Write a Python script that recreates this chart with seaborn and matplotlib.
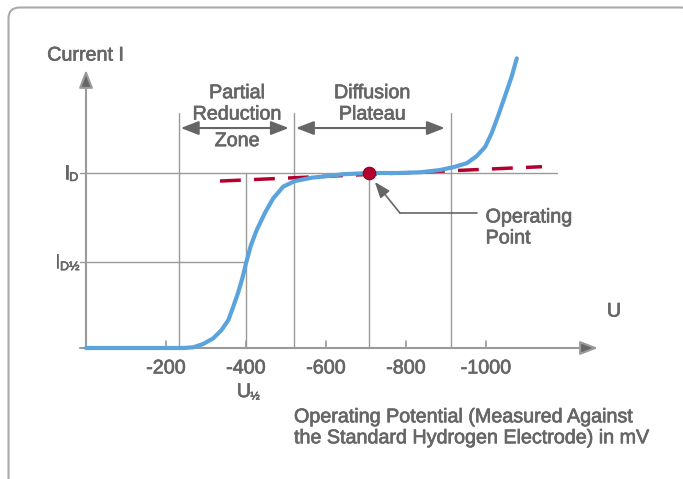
import numpy as np
import matplotlib
matplotlib.use("Agg")
import matplotlib.pyplot as plt
import matplotlib.patheffects as pe
from matplotlib.patches import FancyBboxPatch
import seaborn as sns

sns.set_theme(style="white")
plt.rcParams['font.family'] = ['Liberation Sans', 'DejaVu Sans']

# polarogram (potential as positive mV, drawn as negative labels)
potential_mv = [0, 150, 243, 268, 293, 318, 339, 356, 368, 381, 391, 400, 412, 427, 448,
                468, 493, 522, 564, 606, 643, 708, 780, 835, 885, 918, 952, 977, 998,
                1014, 1031, 1047, 1064, 1077]
current = [0, 0, 0, 0.004, 0.023, 0.055, 0.103, 0.16, 0.235, 0.321, 0.40, 0.484, 0.585,
           0.675, 0.775, 0.855, 0.922, 0.954, 0.973, 0.983, 0.993, 1.0, 1.0, 1.004, 1.017,
           1.033, 1.056, 1.097, 1.15, 1.227, 1.331, 1.436, 1.55, 1.655]

tangent_mv = [335, 1140]
tangent_i = [0.954, 1.036]

op_mv, op_i = 708, 1.0
i_d, i_half = 1.0, 0.49
u_half = 400
zone_edges = [232, 520, 912]
tick_mv = [200, 400, 600, 800, 1000]
tick_labels = ['-200', '-400', '-600', '-800', '-1000']

TXT = '#666666'
LN = '#9a9a9a'
BLUE = '#5ba3dc'
RED = '#b4002e'
FS = 14.2
thick = [pe.withStroke(linewidth=0.5, foreground=TXT)]

fig = plt.figure(figsize=(6.83, 4.79), dpi=100)
ax = fig.add_axes([0, 0, 1, 1])
ax.set_xlim(-215, 1492.5)
ax.set_ylim(-0.7486, 1.9886)
ax.axis('off')

# rounded frame
frame = FancyBboxPatch((8.5, 7.5), 683.5, 520, boxstyle="round,pad=0,rounding_size=11",
                       fc='none', ec='#aaaaaa', lw=1.5)
frame.set_transform(matplotlib.transforms.Affine2D().scale(1, -1).translate(0, 479))
fig.patches.append(frame)

# guide lines
ax.plot([-15, 1178], [i_d, i_d], color=LN, lw=1)
ax.plot([-15, u_half], [i_half, i_half], color=LN, lw=1)
for x in zone_edges:
    ax.plot([x, x], [0, 1.343], color=LN, lw=1)
ax.plot([u_half, u_half], [0, i_d], color=LN, lw=1)
ax.plot([op_mv, op_mv], [0, op_i], color=LN, lw=1)
for x in tick_mv:
    ax.plot([x, x], [0, 0.04], color=LN, lw=1.2)

# axes with arrows
head = '-|>,head_length=0.9,head_width=0.35'
ax.annotate('', xy=(1280, 0), xytext=(-15, 0),
            arrowprops=dict(arrowstyle=head, color=LN, lw=1.5, shrinkA=0, shrinkB=0,
                            fc=TXT, ec=LN))
ax.annotate('', xy=(0, 1.589), xytext=(0, 0),
            arrowprops=dict(arrowstyle=head, color=LN, lw=1.5, shrinkA=0, shrinkB=0,
                            fc=TXT, ec=LN))

# zone arrows
dbl = '<|-|>,head_length=0.9,head_width=0.35'
for a, b in [(237, 507), (525, 897)]:
    ax.annotate('', xy=(b, 1.257), xytext=(a, 1.257),
                arrowprops=dict(arrowstyle=dbl, color=TXT, lw=1.5, shrinkA=0, shrinkB=0))

# curve, tangent and operating point
sns.lineplot(x=potential_mv, y=current, ax=ax, color=BLUE, lw=3, zorder=4)
ax.plot(tangent_mv, tangent_i, color=RED, lw=2.5, dashes=(6, 3.8), zorder=3)
ax.plot([op_mv], [op_i], 'o', ms=9, color=RED, mec='#8a0020', mew=0.8, zorder=5)

# operating point callout
ax.plot([977, 785], [0.771, 0.771], color=TXT, lw=1.2)
ax.annotate('', xy=(722, 0.949), xytext=(785, 0.771),
            arrowprops=dict(arrowstyle='-|>,head_length=0.8,head_width=0.3', color=TXT,
                            lw=1.2, shrinkA=0, shrinkB=0))


def label(x, y, s, size=FS, ha='left'):
    ax.text(x, y, s, color=TXT, fontsize=size, va='center', ha=ha, path_effects=thick)


label(999, 0.749, 'Operating')
label(999, 0.629, 'Point')

label(-97, 1.674, 'Current I')
label(1320, 0.211, 'U', ha='center')
for x, lab in zip(tick_mv, tick_labels):
    label(x, -0.114, lab, ha='center')

label(-55, i_d, 'I')
label(-42, i_d - 0.028, 'D', size=9)
label(-78, i_half, 'I')
label(-65, i_half - 0.028, 'D½', size=9)
label(377, -0.249, 'U')
label(411, -0.277, '½', size=8)

label(378, 1.459, 'Partial', ha='center')
label(378, 1.337, 'Reduction', ha='center')
label(378, 1.185, 'Zone', ha='center')
label(716, 1.459, 'Diffusion', ha='center')
label(716, 1.337, 'Plateau', ha='center')

label(520, -0.393, 'Operating Potential (Measured Against')
label(520, -0.513, 'the Standard Hydrogen Electrode) in mV')

fig.savefig('out.png', dpi=100)
